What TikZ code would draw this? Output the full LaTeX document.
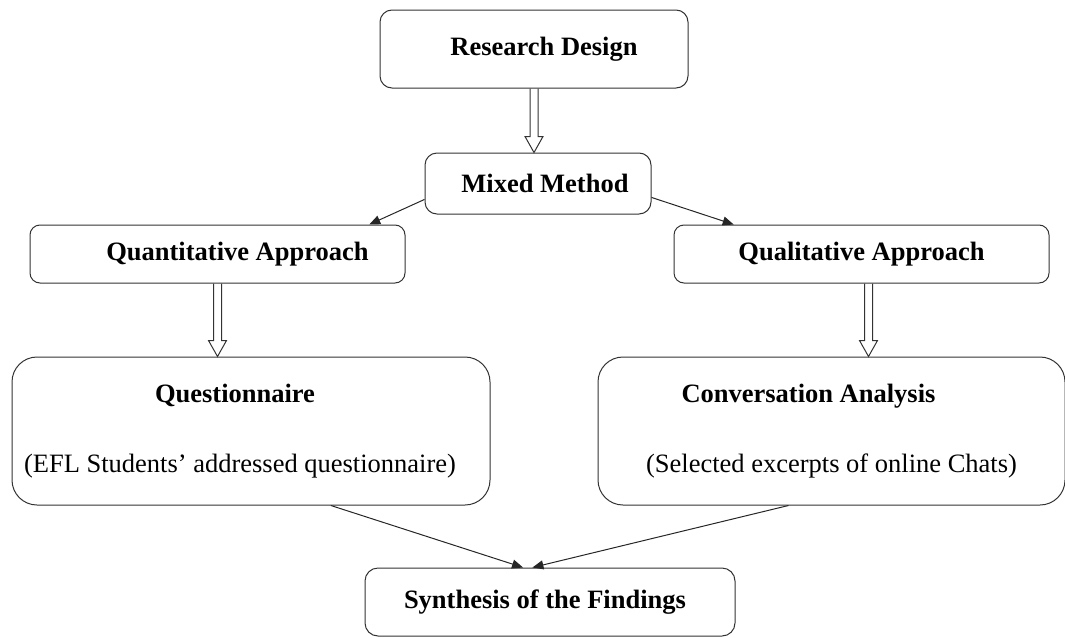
\documentclass[tikz,border=0pt]{standalone}
\usepackage{fontspec}
\setmainfont{Liberation Serif}
\usetikzlibrary{arrows.meta,positioning,calc}

\begin{document}
\begin{tikzpicture}[
  x=1pt, y=1pt,
  font=\fontsize{26.5}{30}\selectfont,
  box/.style={
    rounded corners=12pt,
    draw=black!80,
    line width=1pt,
    align=center,
    inner sep=0pt
  },
  arrow/.style={-{Triangle[length=11pt,width=9pt]}, line width=1pt, draw=black!85},
  hollow/.style={
    line width=1pt,
    draw=black!80,
    to path={let \p1=(\tikztostart), \p2=(\tikztotarget) in
      (\x1-4pt,\y1) -- (\x1-4pt,\y2+16pt) -- (\x1-9pt,\y2+16pt) -- (\x1,\y2)
      -- (\x1+9pt,\y2+16pt) -- (\x1+4pt,\y2+16pt) -- (\x1+4pt,\y1)}
  }
]
\useasboundingbox (0,0) rectangle (1065,-637);

\node[box, minimum width=308pt, minimum height=78pt] (RD) at (534,-49)
{\hspace*{20pt}\textbf{Research Design}};

\node[box, minimum width=226pt, minimum height=61pt, below=64pt of RD, xshift=4pt] (MM)
{\hspace*{14pt}\textbf{Mixed Method}};

\node[box, rounded corners=10pt, minimum width=375pt, minimum height=58pt] (QA) at (217.5,-254)
{\hspace*{40pt}\textbf{Quantitative Approach}};

\node[box, rounded corners=10pt, minimum width=375pt, minimum height=58pt, right=268pt of QA] (QL)
{\textbf{Qualitative Approach}};

\node[box, rounded corners=25pt, minimum width=478pt, minimum height=148pt,
      below=73pt of QA, xshift=33.5pt] (Q)
{\textbf{Questionnaire}\hspace*{32pt}\\[40pt]
(EFL Students’ addressed questionnaire)\hspace*{22pt}};

\node[box, rounded corners=25pt, minimum width=467pt, minimum height=148pt,
      below=73pt of QL, xshift=-30pt] (CA)
{\textbf{Conversation Analysis}\hspace*{46pt}\\[40pt]
(Selected excerpts of online Chats)};

\node[box, rounded corners=13pt, minimum width=370pt, minimum height=68pt] (SF) at (550,-602)
{\textbf{Synthesis of the Findings}\hspace*{10pt}};

\draw[hollow] (RD.south) to (MM.north);
\draw[arrow] (MM.188) -- (QA.11);
\draw[arrow] (MM.-7) -- (QL.167);
\draw[hollow] (QA.south) to (Q.north);
\draw[hollow] ([xshift=7pt]QL.south) to (CA.north);
\draw[arrow] (Q.-43) -- (SF.128);
\draw[arrow] (CA.240) -- (SF.117);
\end{tikzpicture}
\end{document}
